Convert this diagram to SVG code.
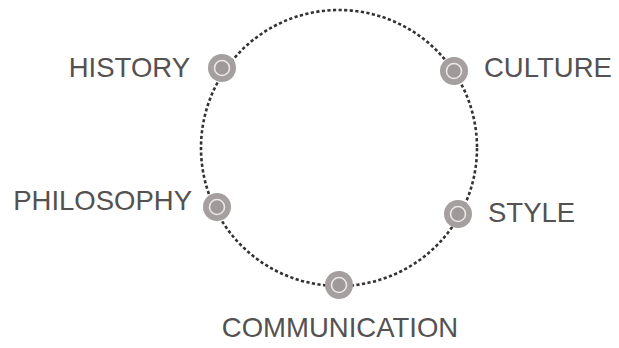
<svg xmlns="http://www.w3.org/2000/svg" width="619" height="348" viewBox="0 0 619 348">
<style>
.lbl{font-family:"Liberation Sans",Arial,sans-serif;font-size:27.5px;fill:#545151}
.outer{fill:#a59f9f}
.inner{fill:#9f9999;stroke:#ece8e8;stroke-width:1.6}
.ring{fill:none;stroke:#333131;stroke-width:2.6;stroke-dasharray:3.2 2.4}
</style>
<rect width="619" height="348" fill="#ffffff"/>
<g id="connectors">
<circle class="ring" cx="339" cy="148" r="138"/>
</g>
<g id="history">
<circle class="outer" cx="222" cy="68" r="14"/>
<circle class="inner" cx="222" cy="68" r="7.5"/>
<text class="lbl" x="190" y="77" text-anchor="end">HISTORY</text>
</g>
<g id="culture">
<circle class="outer" cx="454" cy="71" r="14"/>
<circle class="inner" cx="454" cy="71" r="7.5"/>
<text class="lbl" x="484" y="77">CULTURE</text>
</g>
<g id="philosophy">
<circle class="outer" cx="217" cy="207" r="14"/>
<circle class="inner" cx="217" cy="207" r="7.5"/>
<text class="lbl" x="192" y="210" text-anchor="end">PHILOSOPHY</text>
</g>
<g id="style">
<circle class="outer" cx="458" cy="214" r="14"/>
<circle class="inner" cx="458" cy="214" r="7.5"/>
<text class="lbl" x="488" y="222">STYLE</text>
</g>
<g id="communication">
<circle class="outer" cx="339" cy="285" r="14"/>
<circle class="inner" cx="339" cy="285" r="7.5"/>
<text class="lbl" x="340" y="337" text-anchor="middle">COMMUNICATION</text>
</g>
</svg>
